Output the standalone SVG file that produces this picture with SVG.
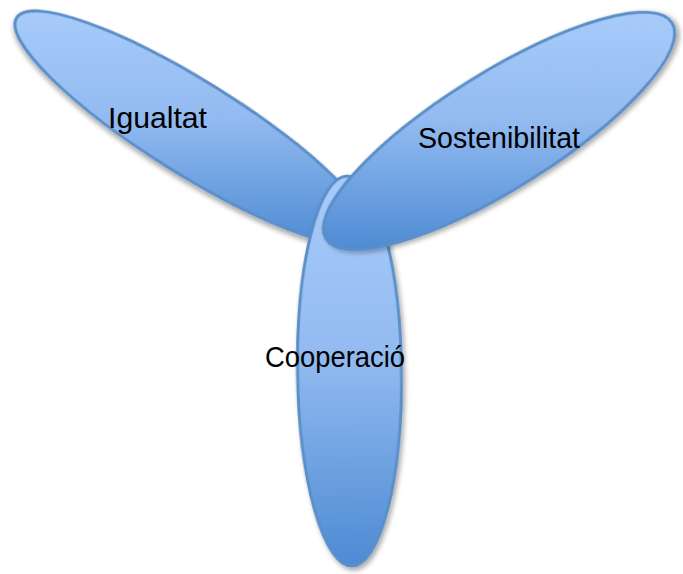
<svg xmlns="http://www.w3.org/2000/svg" width="683" height="574" viewBox="0 0 683 574">
  <style>
    .petal { stroke: #5B8FC7; stroke-width: 3; filter: url(#shadow); }
    .label { font-family: "Liberation Sans", Arial, sans-serif; font-size: 29px; fill: #000000; text-anchor: middle; }
  </style>
  <defs>
    <filter id="shadow" x="-20%" y="-20%" width="140%" height="140%">
      <feDropShadow dx="2" dy="3" stdDeviation="2.5" flood-color="#000000" flood-opacity="0.35"/>
    </filter>
    <linearGradient id="gLeft" gradientUnits="userSpaceOnUse" x1="0" y1="-120" x2="0" y2="120" gradientTransform="rotate(-32)">
      <stop offset="0" stop-color="#A8CBFA"/>
      <stop offset="0.45" stop-color="#93BBF1"/>
      <stop offset="1" stop-color="#4D8BD3"/>
    </linearGradient>
    <linearGradient id="gRight" gradientUnits="userSpaceOnUse" x1="0" y1="-120" x2="0" y2="120" gradientTransform="rotate(32)">
      <stop offset="0" stop-color="#A8CBFA"/>
      <stop offset="0.45" stop-color="#93BBF1"/>
      <stop offset="1" stop-color="#4D8BD3"/>
    </linearGradient>
    <linearGradient id="gDown" x1="0" y1="0" x2="0" y2="1">
      <stop offset="0" stop-color="#A8CBFA"/>
      <stop offset="0.45" stop-color="#93BBF1"/>
      <stop offset="1" stop-color="#4D8BD3"/>
    </linearGradient>
  </defs>

  <g id="igualtat">
    <ellipse class="petal" cx="0" cy="0" rx="208" ry="46.5" fill="url(#gLeft)" transform="translate(193,128) rotate(32)"/>
    <text class="label" x="157.5" y="128" textLength="99" lengthAdjust="spacingAndGlyphs">Igualtat</text>
  </g>

  <g id="cooperacio">
    <ellipse class="petal" cx="0" cy="0" rx="52" ry="195" fill="url(#gDown)" transform="translate(349.5,371) rotate(-0.7)"/>
    <text class="label" x="335" y="367" textLength="140" lengthAdjust="spacingAndGlyphs">Cooperació</text>
  </g>

  <g id="sostenibilitat">
    <ellipse class="petal" cx="0" cy="0" rx="204" ry="58" fill="url(#gRight)" transform="translate(499,131) rotate(-32)"/>
    <text class="label" x="499" y="148" textLength="162" lengthAdjust="spacingAndGlyphs">Sostenibilitat</text>
  </g>

  <g id="connectors"/>
</svg>
